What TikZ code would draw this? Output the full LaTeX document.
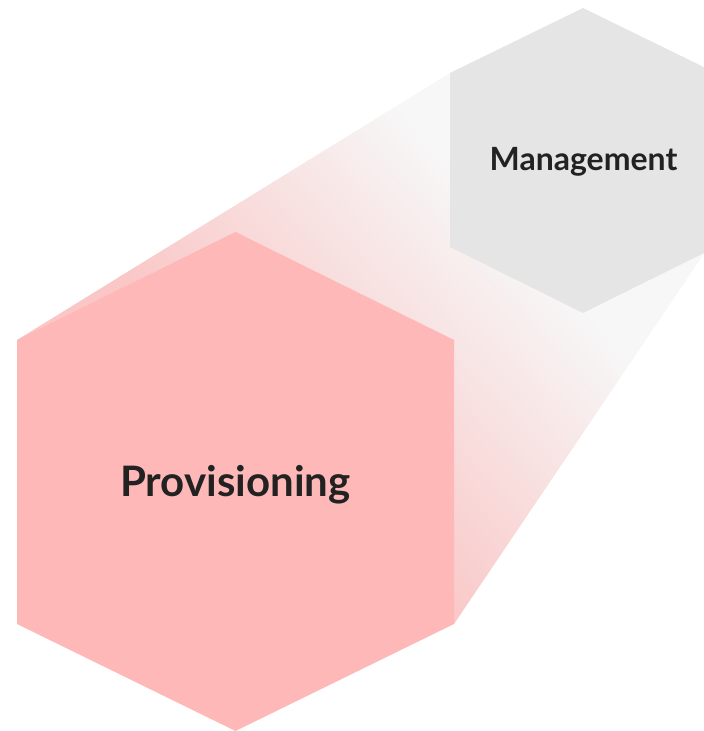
\documentclass[tikz,border=0pt]{standalone}
\usepackage{fontspec}
\setmainfont{Lato}
\definecolor{bigfill}{HTML}{FFB8B8}
\definecolor{smallfill}{HTML}{E5E5E5}
\definecolor{txt}{HTML}{222222}
\definecolor{bandpink}{HTML}{FAC6C6}
\definecolor{bandmid}{HTML}{F7E9E9}
\definecolor{bandgray}{HTML}{F7F7F7}
\tikzset{
  hexlabel/.style={text=txt, font=\bfseries, anchor=base, inner sep=0pt},
}
\begin{document}
\begin{tikzpicture}[x=1pt,y=1pt]
\useasboundingbox (0,0) rectangle (704,731);
% band
\coordinate (b1) at (17,391);
\coordinate (b2) at (450,658);
\coordinate (b3) at (716,495);
\coordinate (b4) at (454,107);
\begin{scope}
  \clip (b1) -- (b2) -- (b3) -- (b4) -- cycle;
  \begin{scope}[transform canvas={rotate=-47.3}]
    \fill[bandpink] (-1500,-500) rectangle (1500,400);
    \fill[bandgray] (-1500,710) rectangle (1500,1600);
    \shade[bottom color=bandpink, middle color=bandmid, top color=bandgray] (-1500,395) rectangle (1500,716);
  \end{scope}
\end{scope}
% big hexagon
\fill[bigfill] (235.5,499) -- (454,391) -- (454,107) -- (235.5,0) -- (17,107) -- (17,391) -- cycle;
% small hexagon
\fill[smallfill] (583,723) -- (716,658) -- (716,484) -- (583,418) -- (450,484) -- (450,658) -- cycle;
\node[hexlabel, font=\fontsize{42}{48}\selectfont\bfseries] (prov) at (235.5,234) {Provisioning};
\node[hexlabel, font=\fontsize{32}{38}\selectfont\bfseries] (mgmt) at (583.5,560) {Management};
\end{tikzpicture}
\end{document}
